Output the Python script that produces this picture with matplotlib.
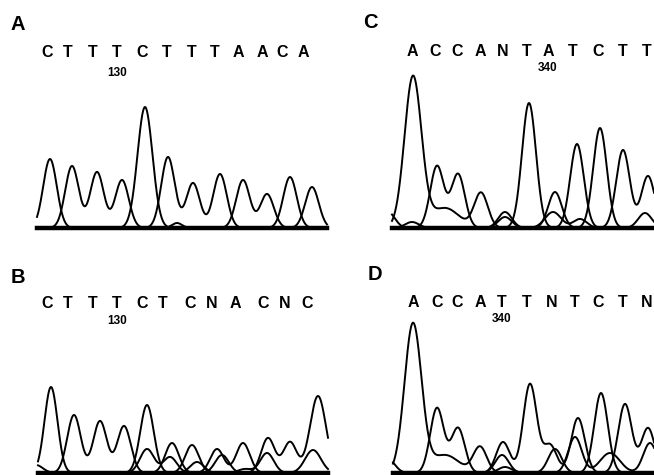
import numpy as np
import matplotlib.pyplot as plt

plt.rcParams['font.family'] = ['Liberation Sans', 'DejaVu Sans']

W, H = 654, 475
SIGMA = 6.8

# called bases and their scan positions
A_SEQ = list("CTTTCTTTAACA")
A_CALLS = [47, 68, 93, 117, 142, 167, 192, 215, 238, 262, 282, 303]
B_SEQ = list("CTTTCTCNACNC")
B_CALLS = [47, 68, 93, 117, 142, 163, 190, 212, 235, 263, 285, 307]
C_SEQ = list("ACCANTATCTT")
C_CALLS = [412, 435, 457, 480, 503, 527, 548, 573, 598, 623, 647]
D_SEQ = list("ACCATTNTCTN")
D_CALLS = [413, 437, 457, 480, 502, 527, 552, 575, 598, 623, 647]

# peaks per dye channel: (scan position, height[, width])
A_PEAKS = {
    "C": [(50, 69), (145, 121, 7.5), (290, 51)],
    "T": [(72, 62), (97, 56), (122, 48), (168, 71), (193, 45), (220, 54)],
    "A": [(243, 48), (267, 34), (312, 41)],
    "G": [(177, 5, 5)],
}
B_PEAKS = {
    "C": [(51, 86, 6.5), (147, 68), (192, 28), (268, 35), (290, 31), (318, 77, 8)],
    "T": [(74, 58), (100, 52), (124, 47), (172, 30), (217, 24), (243, 30)],
    "A": [(147, 24, 7), (170, 16), (222, 18), (313, 23, 8)],
    "G": [(36, 8), (197, 11), (267, 20), (245, 4)],
}
C_PEAKS = {
    "A": [(413, 151, 8.5), (445, 20, 14), (481, 35), (555, 36)],
    "C": [(388, 16), (437, 62), (458, 54), (505, 11), (600, 100)],
    "T": [(412, 6), (529, 125, 7), (577, 84), (623, 78), (648, 52)],
    "G": [(505, 16), (553, 16, 8), (580, 9), (645, 15)],
}
D_PEAKS = {
    "A": [(413, 149, 8.5), (445, 18, 14), (480, 26), (555, 24)],
    "C": [(388, 14), (437, 65), (458, 45), (502, 18), (601, 80)],
    "T": [(503, 31), (530, 89), (550, 28), (578, 55), (625, 69), (648, 45)],
    "G": [(505, 6), (575, 36), (610, 20, 10), (650, 30)],
}


def trace(x, peaks):
    y = np.zeros_like(x)
    for pk in peaks:
        s = pk[2] if len(pk) > 2 else SIGMA
        y += pk[1] * np.exp(-0.5 * ((x - pk[0]) / s) ** 2)
    return y


fig = plt.figure(figsize=(W / 100, H / 100), dpi=100)


def draw_panel(label, label_pos, x0, x1, base, seq, calls, peaks,
               number, num_idx, seq_off, num_off):
    top = base - 190
    bottom = min(base + 2, H)
    ax = fig.add_axes([x0 / W, 1 - bottom / H, (x1 - x0) / W, (bottom - top) / H])
    ax.set_xlim(x0, x1)
    ax.set_ylim(base - bottom, base - top)
    ax.axis('off')

    xs = np.linspace(x0, x1, 1500)
    for ch in "ACGT":
        ax.plot(xs, trace(xs, peaks[ch]), color='black', lw=1.4, clip_on=False)
    ax.plot([x0, x1], [0, 0], color='black', lw=3.2, clip_on=False)

    for letter, cx in zip(seq, calls):
        ax.text(cx, seq_off, letter, ha='center', va='baseline',
                fontsize=11.5, fontweight='bold')
    ax.text(calls[num_idx], num_off, number, ha='center', va='baseline',
            fontsize=8.5, fontweight='bold')
    fig.text(label_pos[0] / W, 1 - label_pos[1] / H, label, ha='center',
             va='baseline', fontsize=14.5, fontweight='bold')


draw_panel("A", (18, 30), 37, 327, 228, A_SEQ, A_CALLS, A_PEAKS, "130", 3, 170.7, 152)
draw_panel("B", (17.5, 283), 38, 328, 473, B_SEQ, B_CALLS, B_PEAKS, "130", 3, 165.3, 149)
draw_panel("C", (370, 28), 392, 654, 228, C_SEQ, C_CALLS, C_PEAKS, "340", 6, 172, 157.3)
draw_panel("D", (374.5, 280), 393, 654, 473, D_SEQ, D_CALLS, D_PEAKS, "340", 4, 166.3, 150.7)

fig.savefig("out.png", dpi=100)
